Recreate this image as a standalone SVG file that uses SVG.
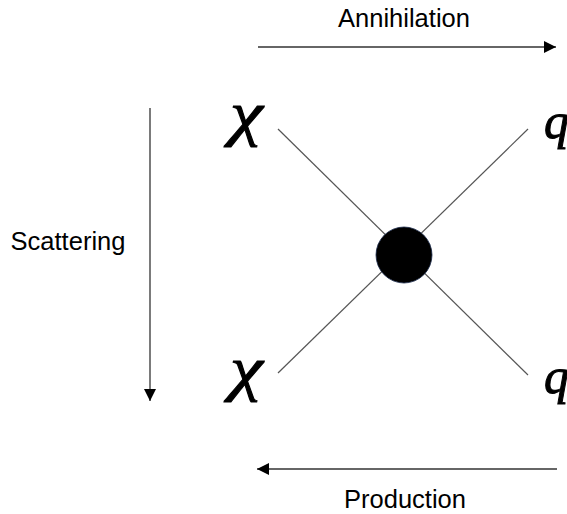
<svg xmlns="http://www.w3.org/2000/svg" width="567" height="514" viewBox="0 0 567 514">
<defs>
<style>
.lbl{font-family:"Liberation Sans",Arial,sans-serif;font-size:25.5px;fill:#000}
.sym{font-family:"Liberation Serif","Times New Roman",serif;font-style:italic;fill:#000;stroke:#000;stroke-width:1}
.chi{font-size:62px}
.q{font-size:50px}
.leg{stroke:#555;stroke-width:1.2;fill:none}
.arr{stroke:#333;stroke-width:1.3;fill:none}
</style>
<marker id="ah" viewBox="0 0 10 10" refX="10" refY="5" markerWidth="14" markerHeight="12" markerUnits="userSpaceOnUse" orient="auto">
<path d="M0,0 L10,5 L0,10 z" fill="#000"/>
</marker>
</defs>
<rect width="567" height="514" fill="#fff"/>
<g id="connectors">
<line class="leg" x1="278" y1="129" x2="528" y2="375"/>
<line class="leg" x1="528" y1="129" x2="278" y2="373"/>
<line class="arr" x1="258" y1="47" x2="556" y2="47" marker-end="url(#ah)"/>
<line class="arr" x1="557" y1="469" x2="257" y2="469" marker-end="url(#ah)"/>
<line class="arr" x1="150" y1="108" x2="150" y2="401" marker-end="url(#ah)"/>
</g>
<g id="vertex"><circle cx="404" cy="255" r="28" fill="#000" stroke="#1a2a4a" stroke-width="0.8"/></g>
<g id="chi-top"><text class="sym chi" transform="translate(230,134) scale(1.2,1)">χ</text></g>
<g id="chi-bottom"><text class="sym chi" transform="translate(230,389) scale(1.2,1)">χ</text></g>
<g id="q-top"><text class="sym q" x="544" y="138">q</text></g>
<g id="q-bottom"><text class="sym q" x="544" y="393">q</text></g>
<g id="annihilation"><text class="lbl" x="404" y="27" text-anchor="middle">Annihilation</text></g>
<g id="production"><text class="lbl" x="405" y="508" text-anchor="middle">Production</text></g>
<g id="scattering"><text class="lbl" x="68" y="250" text-anchor="middle">Scattering</text></g>
</svg>
